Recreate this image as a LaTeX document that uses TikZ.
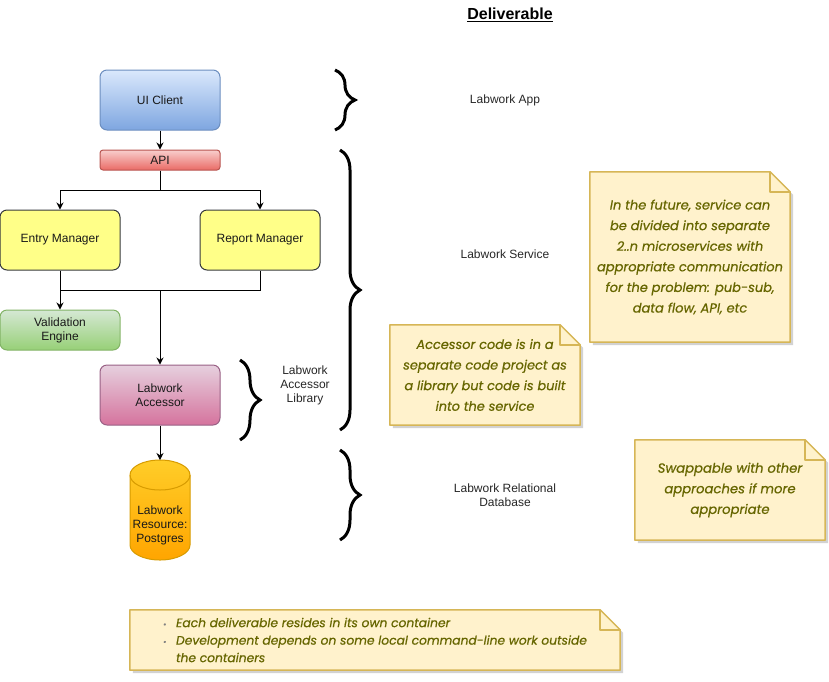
\documentclass[tikz,border=0pt]{standalone}
\usepackage{fontspec}
\setmainfont{Liberation Sans}
\newfontfamily\notefont[FakeBold=0.6]{Poppins}
\usetikzlibrary{arrows.meta,positioning,backgrounds,shadows,decorations.pathreplacing}

\definecolor{uitop}{HTML}{DAE8FC}
\definecolor{uibot}{HTML}{7EA6E0}
\definecolor{uiline}{HTML}{6C8EBF}
\definecolor{apitop}{HTML}{F8CECC}
\definecolor{apibot}{HTML}{EA6B66}
\definecolor{apiline}{HTML}{B85450}
\definecolor{mgrfill}{HTML}{FFFF88}
\definecolor{mgrline}{HTML}{36393D}
\definecolor{valtop}{HTML}{D5E8D4}
\definecolor{valbot}{HTML}{97D077}
\definecolor{valline}{HTML}{82B366}
\definecolor{acctop}{HTML}{E6D0DE}
\definecolor{accbot}{HTML}{D5739D}
\definecolor{accline}{HTML}{996185}
\definecolor{dbtop}{HTML}{FFCD28}
\definecolor{dbbot}{HTML}{FFA500}
\definecolor{dbline}{HTML}{D79B00}
\definecolor{notefill}{HTML}{FFF2CC}
\definecolor{noteline}{HTML}{D6B656}
\definecolor{notetext}{HTML}{666600}

\newcommand{\bul}{\makebox[13pt][l]{\textcolor{gray}{\footnotesize\textbullet}}}

\begin{document}
\begin{tikzpicture}[x=1pt,y=-1pt,
  box/.style={rounded corners=7pt, minimum width=120, minimum height=60, line width=1pt,
    align=center, text=black!90, font=\fontsize{12}{14}\selectfont},
  arr/.style={line width=1pt, -{Stealth[length=7pt,width=7pt]}},
  con/.style={line width=1pt},
  brc/.style={line width=3pt, decorate, decoration={brace, amplitude=20pt}},
  lbl/.style={align=center, text=black!85, font=\fontsize{12}{14}\selectfont},
  notetxt/.style={align=center, text=notetext, font=\notefont\itshape\fontsize{#1}{20.6}\selectfont},
  notetxt/.default=12.5,
  notebox/.style={fill=notefill, draw=noteline, line width=1.5pt, line join=round}
  ]
\useasboundingbox (0,0) rectangle (829,681);

\node[font=\bfseries\fontsize{16}{19}\selectfont] (title) at (510,15) {\underline{Deliverable}};

% components
\node[box, top color=uitop, bottom color=uibot, draw=uiline] (ui) at (160,100) {UI Client};
\node[box, rounded corners=3pt, minimum height=20, top color=apitop, bottom color=apibot, draw=apiline] (api) at (160,160) {API};
\node[box, fill=mgrfill, draw=mgrline] (entry) at (60,240) {Entry Manager};
\node[box, fill=mgrfill, draw=mgrline] (report) at (260,240) {Report Manager};
\node[box, minimum height=40, top color=valtop, bottom color=valbot, draw=valline] (valid) at (60,330) {Validation\\Engine};
\node[box, top color=acctop, bottom color=accbot, draw=accline] (acc) at (160,395) {Labwork\\Accessor};
\node[box, rounded corners=0pt, minimum width=60, minimum height=70] (db) at (160,525) {Labwork\\Resource:\\Postgres};
\coordinate (dbtopc) at (160,460);
\coordinate (join) at (160,290);

% the database cylinder
\begin{scope}[on background layer]
\path[top color=dbtop, bottom color=dbbot, draw=dbline, line width=1pt]
  (130,475) -- (130,545) arc[start angle=180, end angle=0, x radius=30, y radius=15]
  -- (190,475) arc[start angle=0, end angle=-180, x radius=30, y radius=15] -- cycle;
\draw[dbline, line width=1pt] (130,475) arc[start angle=180, end angle=0, x radius=30, y radius=15];
\end{scope}

% connectors
\draw[arr] (ui) -- (api);
\draw[arr] (api.south) -- ++(0,20) -| (entry.north);
\draw[arr] (api.south) -- ++(0,20) -| (report.north);
\draw[con] (entry.south) -- ++(0,20) -| (report.south);
\draw[arr] (entry.south) -- (valid.north);
\draw[arr] (join) -- (acc.north);
\draw[arr] (acc.south) -- (dbtopc);

% braces and their labels
\draw[brc] (335,70) -- (335,130);
\draw[brc] (340,150) -- (340,430);
\draw[brc] (240,360) -- (240,440);
\draw[brc] (340,450) -- (340,540);
\node[lbl] (applbl) at (505,100) {Labwork App};
\node[lbl] (svclbl) at (505,254) {Labwork Service};
\node[lbl] (liblbl) at (305,385) {Labwork\\Accessor\\Library};
\node[lbl] (dblbl) at (505,495) {Labwork Relational\\Database};

% notes
\node[notetxt=13, minimum width=200, minimum height=170] (future) at (690,257)
  {In the future, service can\\be divided into separate\\2..n microservices with\\appropriate communication\\for the problem: pub-sub,\\data flow, API, etc};
\node[notetxt=12.9, minimum width=190, minimum height=100] (accnote) at (485,375)
  {Accessor code is in a\\separate code project as\\a library but code is built\\into the service};
\node[notetxt=13.2, minimum width=190, minimum height=100] (swap) at (730,490)
  {Swappable with other\\approaches if more\\appropriate};
\node[notetxt, align=left, font=\notefont\itshape\fontsize{12.3}{17.5}\selectfont,
  minimum width=490, minimum height=60] (bulnote) at (375,640)
  {\bul Each deliverable resides in its own container\\\bul Development depends on some local command-line work outside\\\hspace*{13pt}the containers};

\begin{scope}[on background layer]
\foreach \n in {future,accnote,swap,bulnote} {
  \draw[notebox, drop shadow={shadow xshift=3pt, shadow yshift=-3pt, fill=black!35, opacity=.5}]
    (\n.north west) -- ([xshift=-20pt]\n.north east) -- ([yshift=-20pt]\n.north east)
    -- (\n.south east) -- (\n.south west) -- cycle;
  \draw[notebox, fill=none] ([xshift=-20pt]\n.north east) -- ([xshift=-20pt,yshift=-20pt]\n.north east)
    -- ([yshift=-20pt]\n.north east);
}
\end{scope}
\end{tikzpicture}
\end{document}
